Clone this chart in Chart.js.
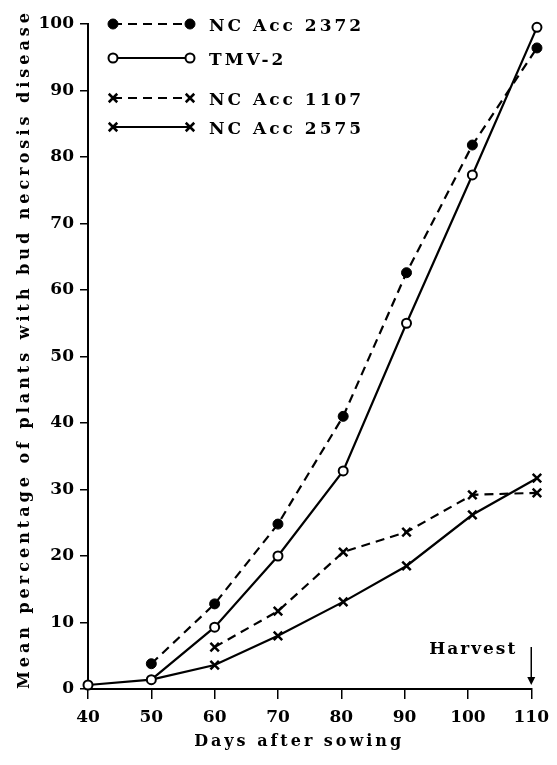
<!DOCTYPE html>
<html>
<head>
<meta charset="utf-8">
<script src="https://cdn.jsdelivr.net/npm/chart.js@4"></script>
<style>
 body { margin: 0; background: #fff; }
 canvas { display: block; }
</style>
</head>
<body>
<canvas id="canvasNecrosis" width="557" height="765"></canvas>
<script>
//Datos
const dias = [40, 50, 60, 70, 80.3, 90.3, 100.7, 110.9];
const ncAcc2372 = [null, 3.8, 12.8, 24.8, 41.0, 62.6, 81.8, 96.4];
const tmv2 = [0.6, 1.4, 9.3, 20.0, 32.8, 55.0, 77.3, 99.5];
const ncAcc1107 = [null, null, 6.3, 11.7, 20.6, 23.6, 29.2, 29.5];
const ncAcc2575 = [null, 1.4, 3.6, 8.0, 13.1, 18.5, 26.2, 31.7];
const ticksX = [40, 50, 60, 70, 80, 90, 100, 110];
const ticksY = [0, 10, 20, 30, 40, 50, 60, 70, 80, 90, 100];
const nombres = ["NC Acc 2372", "TMV-2", "NC Acc 1107", "NC Acc 2575"];

const fuente = '"DejaVu Serif", "Liberation Serif", serif';

//Funcion que arma los puntos {x,y} sin los valores vacios
function armarPuntos(valores) {
 let puntos = [];
 for (let i = 0; i < valores.length; i++) {
  if (valores[i] !== null) puntos.push({x: dias[i], y: valores[i]});
 }
 return puntos;
}

//Estilos de cada serie
const estilos = [
 {pointStyle: 'circle', pointRadius: 5, pointBackgroundColor: '#000', pointBorderWidth: 1, borderDash: [9, 6]},
 {pointStyle: 'circle', pointRadius: 4.5, pointBackgroundColor: '#fff', pointBorderWidth: 2, borderDash: []},
 {pointStyle: 'crossRot', pointRadius: 6, pointBackgroundColor: '#000', pointBorderWidth: 2.5, borderDash: [9, 6]},
 {pointStyle: 'crossRot', pointRadius: 6, pointBackgroundColor: '#000', pointBorderWidth: 2.5, borderDash: []}
];
const series = [ncAcc2372, tmv2, ncAcc1107, ncAcc2575];

let datasets = [];
for (let i = 0; i < series.length; i++) {
 let ds = Object.assign({
  label: nombres[i],
  data: armarPuntos(series[i]),
  borderColor: '#000',
  pointBorderColor: '#000',
  borderWidth: 2.2,
  tension: 0,
  clip: false
 }, estilos[i]);
 datasets.push(ds);
}
//El primer punto de NC Acc 2575 queda debajo del circulo de TMV-2
datasets[3].pointRadius = ctx => ctx.dataIndex === 0 ? 0 : 6;

//Texto estirado hasta un ancho dado (espaciado entre letras)
function textoAncho(ctx, texto, x, y, ancho, alinear) {
 ctx.letterSpacing = '0px';
 let w0 = ctx.measureText(texto).width;
 let espacio = (ancho - w0) / (texto.length - 1);
 ctx.letterSpacing = espacio + 'px';
 ctx.textAlign = 'left';
 let inicio = alinear === 'right' ? x - ancho : x - ancho / 2;
 ctx.fillText(texto, inicio, y);
 ctx.letterSpacing = '0px';
}

//Plugin para leyenda, titulos y la flecha de cosecha
const extras = {
 id: 'extras',
 afterDraw(chart) {
  const ctx = chart.ctx;
  const area = chart.chartArea;
  const escX = chart.scales.x;
  ctx.save();
  ctx.fillStyle = '#000';
  ctx.strokeStyle = '#000';

  //Leyenda
  const filas = [0, 34, 74, 103];
  const x0 = area.left + 25, x1 = area.left + 102;
  for (let i = 0; i < nombres.length; i++) {
   const y = area.top + filas[i];
   ctx.lineWidth = 2.2;
   ctx.setLineDash(estilos[i].borderDash);
   ctx.beginPath();
   ctx.moveTo(x0, y);
   ctx.lineTo(x1, y);
   ctx.stroke();
   ctx.setLineDash([]);
   const opts = {pointStyle: estilos[i].pointStyle, radius: estilos[i].pointRadius, borderWidth: estilos[i].pointBorderWidth, rotation: 0};
   [x0, x1].forEach(px => {
    ctx.fillStyle = estilos[i].pointBackgroundColor;
    ctx.strokeStyle = '#000';
    ctx.lineWidth = opts.borderWidth;
    Chart.helpers.drawPoint(ctx, opts, px, y);
   });
   ctx.fillStyle = '#000';
   ctx.font = 'bold 17px ' + fuente;
   ctx.textAlign = 'left';
   ctx.textBaseline = 'alphabetic';
   ctx.letterSpacing = '3px';
   ctx.fillText(nombres[i], area.left + 121, y + 7);
   ctx.letterSpacing = '0px';
  }

  //Titulo eje X
  ctx.font = 'bold 16px ' + fuente;
  ctx.textBaseline = 'alphabetic';
  textoAncho(ctx, 'Days after sowing', (area.left + area.right) / 2 - 12, 746, 207, 'center');

  //Titulo eje Y
  ctx.save();
  ctx.translate(25, 351);
  ctx.rotate(-Math.PI / 2);
  ctx.font = 'bold 16px ' + fuente;
  ctx.textBaseline = 'middle';
  textoAncho(ctx, 'Mean percentage of plants with bud necrosis disease', 0, 0, 676, 'center');
  ctx.restore();

  //Flecha de cosecha
  const xh = escX.getPixelForValue(110);
  ctx.lineWidth = 1.5;
  ctx.beginPath();
  ctx.moveTo(xh, area.bottom - 42);
  ctx.lineTo(xh, area.bottom - 8);
  ctx.stroke();
  ctx.beginPath();
  ctx.moveTo(xh - 4, area.bottom - 12);
  ctx.lineTo(xh + 4, area.bottom - 12);
  ctx.lineTo(xh, area.bottom - 4);
  ctx.closePath();
  ctx.fill();
  ctx.font = 'bold 17px ' + fuente;
  ctx.textBaseline = 'alphabetic';
  textoAncho(ctx, 'Harvest', xh - 16, area.bottom - 35, 86, 'right');
  ctx.restore();
 }
};

var canvas = document.getElementById("canvasNecrosis");
let grafico = new Chart(canvas, {
 type: 'line',
 data: {datasets: datasets},
 options: {
  responsive: false,
  animation: false,
  layout: {padding: {left: 0, right: 18, top: 24, bottom: 0}},
  plugins: {legend: {display: false}, tooltip: {enabled: false}},
  scales: {
   x: {
    type: 'linear',
    min: 40,
    max: 110,
    afterFit: s => { s.height = 76; },
    afterBuildTicks: s => { s.ticks = ticksX.map(v => ({value: v})); },
    grid: {drawOnChartArea: false, drawTicks: true, tickLength: 10, color: '#000', lineWidth: 1.5},
    border: {display: true, color: '#000', width: 2},
    ticks: {color: '#000', padding: 8, font: {family: fuente, size: 17, weight: 'bold'}}
   },
   y: {
    type: 'linear',
    min: 0,
    max: 100,
    afterFit: s => { s.width = 88; },
    afterBuildTicks: s => { s.ticks = ticksY.map(v => ({value: v})); },
    grid: {drawOnChartArea: false, drawTicks: true, tickLength: 8, color: '#000', lineWidth: 1.5},
    border: {display: true, color: '#000', width: 2},
    ticks: {color: '#000', padding: 6, font: {family: fuente, size: 17, weight: 'bold'}}
   }
  }
 },
 plugins: [extras]
});
</script>
</body>
</html>
